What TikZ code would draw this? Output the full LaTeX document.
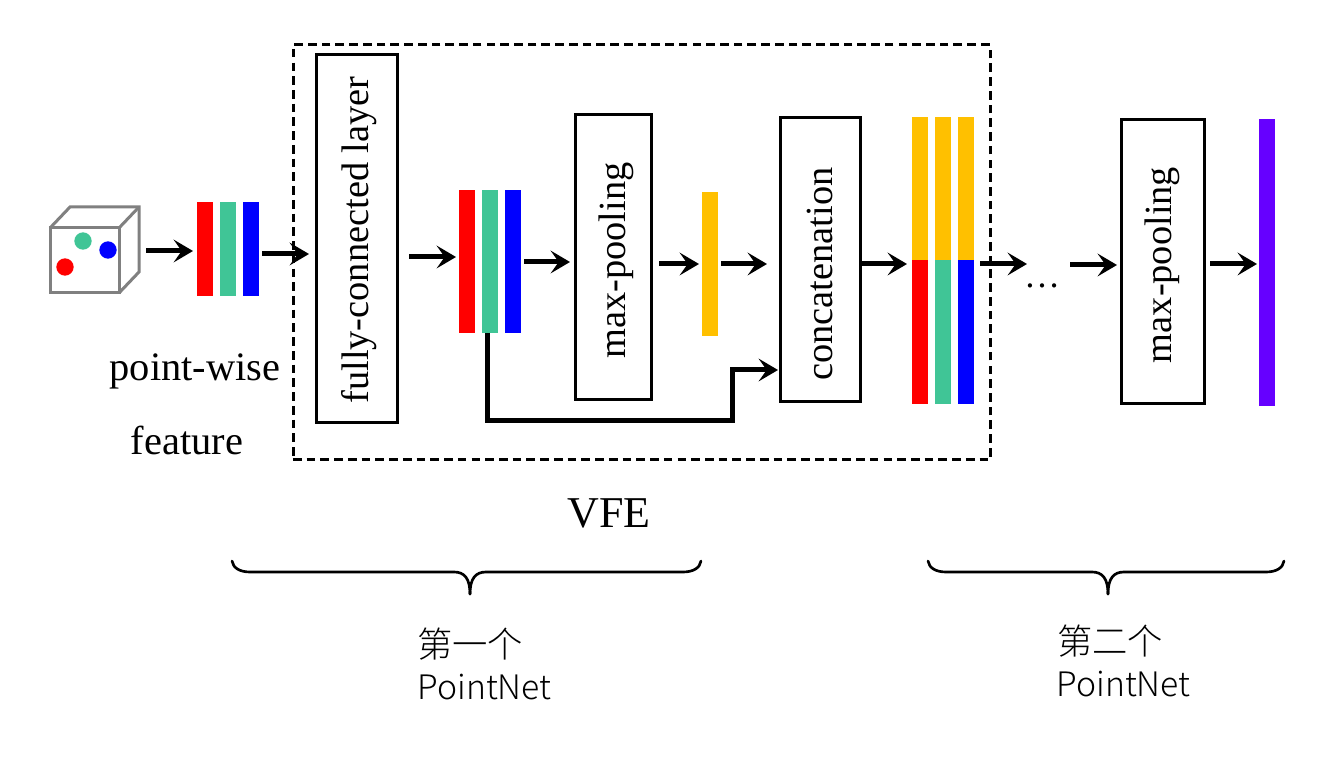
\documentclass[tikz,border=0pt]{standalone}
\usepackage{fontspec}
\setmainfont{Liberation Serif}
\newfontfamily\cjk{Noto Sans CJK SC Light}
\usetikzlibrary{arrows.meta}
\definecolor{cred}{RGB}{255,0,0}
\definecolor{cgreen}{RGB}{64,197,150}
\definecolor{cblue}{RGB}{0,0,255}
\definecolor{cyellow}{RGB}{255,192,0}
\definecolor{cpurple}{RGB}{102,0,255}
\definecolor{cgray}{RGB}{128,128,128}
\tikzset{
  arr/.style={line width=3.75pt,-{Stealth[length=14.5pt,width=17pt,inset=6pt]}},
  netbox/.style={draw=black,line width=2.25pt,fill=white,inner sep=0pt,outer sep=0pt},
  colbar/.style={inner sep=0pt,outer sep=0pt,draw=none},
  boxlabel/.style={rotate=90,font=\fontsize{28.8}{28.8}\selectfont,inner sep=0pt},
  serifl/.style={inner sep=0pt,font=\fontsize{30.3}{30.3}\selectfont},
  bracel/.style={inner sep=0pt,font=\cjk\fontsize{26.5}{26.5}\selectfont},
  pnetl/.style={inner sep=0pt,font=\cjk\fontsize{25.3}{25.3}\selectfont},
  bracepath/.style={line width=2pt,line cap=round},
  dot/.style={circle,inner sep=0pt,minimum size=13pt},
  cubeline/.style={draw=cgray,line width=2.25pt,line join=miter}
}
% name, colour, x1, y1, x2, y2 (pixels)
\newcommand{\pxbar}[6]{\node[colbar,fill=#2,minimum width={(#5-#3)*0.75pt},minimum height={(#6-#4)*0.75pt}] (#1) at ({(#3+#5)/2},{(#4+#6)/2}) {};}
% name, x1, y1, x2, y2, text, label shift
\newcommand{\pxbox}[7]{\node[netbox,minimum width={(#4-#2)*0.75pt},minimum height={(#5-#3)*0.75pt}] (#1) at ({(#2+#4)/2},{(#3+#5)/2}) {};\node[boxlabel] at ([shift={#7}]#1.center) {#6};}
\begin{document}
\begin{tikzpicture}[x=0.75pt,y=-0.75pt]
\useasboundingbox (0,0) rectangle (1332,762);
% cube
\node[inner sep=0pt,outer sep=0pt,minimum width=66.75pt,minimum height=64.5pt] (cube) at (94.5,250) {};
\draw[cubeline] (50,228) rectangle (119,293);
\draw[cubeline] (50,228) -- (70,207) -- (139,207) -- (139,272) -- (119,293);
\draw[cubeline] (119,228) -- (139,207);
\node[dot,fill=cgreen] (dg) at (83,241) {};
\node[dot,fill=cblue] (db) at (108,250) {};
\node[dot,fill=cred] (dr) at (65,267) {};
% dashed box
\node[draw=black,line width=2.25pt,dash pattern=on 6.5pt off 3.8pt,inner sep=0pt,outer sep=0pt,minimum width=522.75pt,minimum height=311.25pt] (vfe) at (641.5,252.5) {};
% bars 1
\pxbar{ra}{cred}{197}{202}{213}{296}
\pxbar{ga}{cgreen}{220}{202}{236}{296}
\pxbar{ba}{cblue}{243}{202}{259}{296}
% boxes
\pxbox{fc}{316}{55}{397}{423}{fully-connected layer}{(3,1)}
\pxbox{mpa}{575}{115}{651}{400}{max-pooling}{(3,3)}
\pxbox{conc}{780}{118}{860}{402}{concatenation}{(0,14)}
\pxbox{mpb}{1121}{120}{1204}{404}{max-pooling}{(0,3)}
% bars 2
\pxbar{rb}{cred}{459}{190}{475}{333}
\pxbar{gb}{cgreen}{482}{190}{498}{333}
\pxbar{bb}{cblue}{505}{190}{521}{333}
\pxbar{yb}{cyellow}{702}{192}{718}{336}
% bars 3
\pxbar{yc1}{cyellow}{912}{117}{928}{260}
\pxbar{yc2}{cyellow}{935}{117}{951}{260}
\pxbar{yc3}{cyellow}{958}{117}{974}{260}
\pxbar{rc}{cred}{912}{260}{928}{404}
\pxbar{gc}{cgreen}{935}{260}{951}{404}
\pxbar{bc}{cblue}{958}{260}{974}{404}
\pxbar{pc}{cpurple}{1259}{119}{1275}{406}
% free ends
\coordinate (afterA) at (1027,264);
\coordinate (beforeB) at (1070,265);
\coordinate (elbow) at (732,421);
% arrows
\draw[arr] ([shift={(7,1)}]cube.east) -- ([shift={(-4,2)}]ra.west);
\draw[arr] ([shift={(3,5)}]ba.east) -- ([shift={(-7,15)}]fc.west);
\draw[arr] ([shift={(12,18)}]fc.east) -- ([shift={(-3,-4.5)}]rb.west);
\draw[arr] ([shift={(3,0.5)}]bb.east) -- ([shift={(-5,4.5)}]mpa.west);
\draw[arr] ([shift={(8,6.5)}]mpa.east) -- ([shift={(-3,0)}]yb.west);
\draw[arr] ([shift={(3,0)}]yb.east) -- ([shift={(-13,4)}]conc.west);
\draw[arr] ([shift={(2,4)}]conc.east) -- ([shift={(-5,4)}]rc.north west);
\draw[arr] ([shift={(6,4)}]bc.north east) -- (afterA);
\draw[arr] (beforeB) -- ([shift={(-4,3)}]mpb.west);
\draw[arr] ([shift={(6,2)}]mpb.east) -- ([shift={(-2,1.5)}]pc.west);
\draw[arr] ([shift={(-3,0)}]gb.south) |- (elbow) |- ([shift={(-2,-32)}]conc.south west);
% texts
\node[inner sep=0pt,font=\fontsize{27}{27}\selectfont,anchor=base] (dots) at (1042,288) {…};
\node[serifl] (pw) at (195,371) {point-wise};
\node[serifl] (feat) at (187,440) {feature};
\node[inner sep=0pt,font=\fontsize{33}{33}\selectfont] (vfel) at (609,513) {VFE};
% braces
\draw[bracepath] (232,561) .. controls (233,568) and (240,572) .. (250,572) -- (454,572) .. controls (464,572) and (470,578) .. (470,594);
\draw[bracepath] (701,561) .. controls (700,568) and (693,572) .. (683,572) -- (486,572) .. controls (476,572) and (470,578) .. (470,594);
\draw[bracepath] (928,561) .. controls (929,568) and (936,572) .. (946,572) -- (1092,572) .. controls (1102,572) and (1108,578) .. (1108,594);
\draw[bracepath] (1284,561) .. controls (1283,568) and (1276,572) .. (1266,572) -- (1124,572) .. controls (1114,572) and (1108,578) .. (1108,594);
\node[bracel] (l1) at (470,644) {第一个};
\node[pnetl] (p1) at (484.5,687) {PointNet};
\node[bracel] (l2) at (1110,641) {第二个};
\node[pnetl] (p2) at (1123.5,684) {PointNet};
\end{tikzpicture}
\end{document}
